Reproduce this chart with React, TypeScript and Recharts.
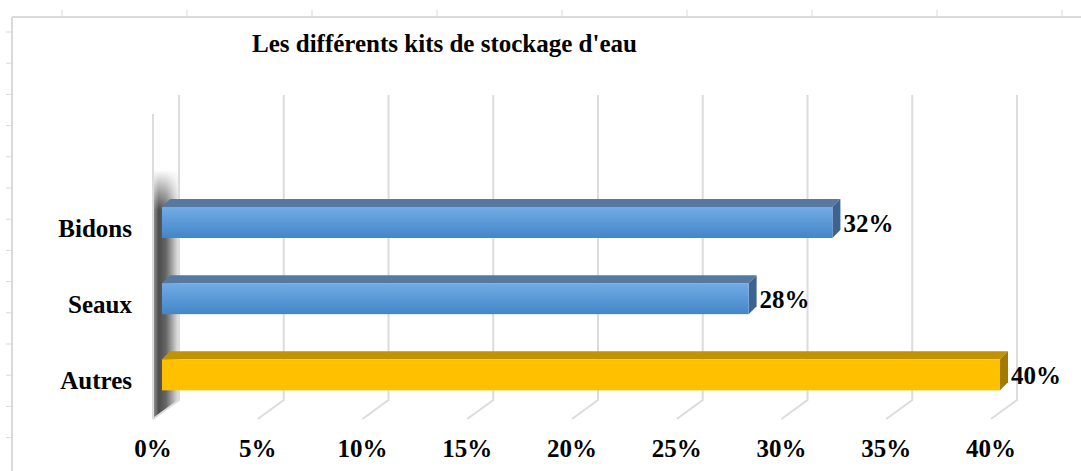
import React from "react";
import { BarChart, Bar, XAxis, YAxis, CartesianGrid, LabelList } from "recharts";

const categories = ["Bidons", "Seaux", "Autres"];
const shares = [32, 28, 40];
const xTicks = [0, 5, 10, 15, 20, 25, 30, 35, 40];
const title = "Les différents kits de stockage d'eau";

const data = categories.map((name, i) => ({ name, value: shares[i] }));

const FONT = '"Liberation Serif", "Times New Roman", serif';
const FS = 25;
const DEPTH = 8;
const GRID = "#dcdcdc";

// face colours per category
const faces: Record<string, { hi: string; lo: string; lid: string; side: string }> = {
  Bidons: { hi: "#73ace5", lo: "#4286c9", lid: "#57799f", side: "#3d6490" },
  Seaux: { hi: "#73ace5", lo: "#4286c9", lid: "#57799f", side: "#3d6490" },
  Autres: { hi: "#ffc000", lo: "#ffc000", lid: "#c29200", side: "#a27a00" },
};

function Box3D(props: any) {
  const { x, y, width, height, index, payload } = props;
  const c = faces[payload.name];
  const d = DEPTH;
  const id = `front-${index}`;
  return (
    <g>
      <defs>
        <linearGradient id={id} x1="0" y1="0" x2="0" y2="1">
          <stop offset="0%" stopColor={c.hi} />
          <stop offset="100%" stopColor={c.lo} />
        </linearGradient>
      </defs>
      <polygon
        points={`${x},${y} ${x + d},${y - d} ${x + width + d},${y - d} ${x + width},${y}`}
        fill={c.lid}
      />
      <polygon
        points={`${x + width},${y} ${x + width + d},${y - d} ${x + width + d},${y + height - d} ${x + width},${y + height}`}
        fill={c.side}
      />
      <rect x={x} y={y} width={width} height={height} fill={`url(#${id})`} />
    </g>
  );
}

// back wall line + floor diagonal for each tick, plus the side wall at 0
function GridLine(props: any) {
  const { x1, y1, y2, index } = props;
  const bx = x1 + 17;
  const fx = x1 - 9;
  const top = y1 - 89;
  const bottom = y2 - 12.5;
  const front = y2 + 6.5;
  return (
    <g>
      {index === 0 && (
        <g>
          <defs>
            <linearGradient id="wallShade" x1="0" y1="0" x2="1" y2="0">
              <stop offset="0%" stopColor="#9a9a9a" />
              <stop offset="22%" stopColor="#4c4c4c" />
              <stop offset="50%" stopColor="#666" />
              <stop offset="78%" stopColor="#b0b0b0" />
              <stop offset="100%" stopColor="#ebebeb" />
            </linearGradient>
            <linearGradient id="wallFade" gradientUnits="userSpaceOnUse" x1="0" y1={top + 75} x2="0" y2={top + 115}>
              <stop offset="0%" stopColor="#fff" stopOpacity={0} />
              <stop offset="100%" stopColor="#fff" stopOpacity={1} />
            </linearGradient>
            <mask id="wallMask">
              <rect x={fx - 5} y={top} width={40} height={front - top + 5} fill="url(#wallFade)" />
            </mask>
          </defs>
          <polygon
            points={`${fx},${top + 19} ${bx},${top} ${bx},${bottom} ${fx},${front}`}
            fill="url(#wallShade)"
            mask="url(#wallMask)"
          />
          <line x1={fx} y1={top + 19} x2={fx} y2={front} stroke={GRID} strokeWidth={2} />
        </g>
      )}
      <polyline
        points={`${bx},${top} ${bx},${bottom} ${fx},${front}`}
        fill="none"
        stroke={GRID}
        strokeWidth={2}
      />
    </g>
  );
}

function XTick(props: any) {
  const { x, y, payload } = props;
  return (
    <text x={x - 9} y={y + 36} textAnchor="middle" dominantBaseline="central"
      fontFamily={FONT} fontWeight="bold" fontSize={FS} fill="#000">
      {`${payload.value}%`}
    </text>
  );
}

function YTick(props: any) {
  const { x, y, payload } = props;
  return (
    <text x={x - 30} y={y + 6} textAnchor="end" dominantBaseline="central"
      fontFamily={FONT} fontWeight="bold" fontSize={FS} fill="#000">
      {payload.value}
    </text>
  );
}

function ValueLabel(props: any) {
  const { x, y, width, height, value } = props;
  return (
    <text x={x + width + DEPTH + 3} y={y + height / 2 + 1} dominantBaseline="central"
      fontFamily={FONT} fontWeight="bold" fontSize={FS} fill="#000">
      {`${value}%`}
    </text>
  );
}

export default function App() {
  const rulerTop = Array.from({ length: 9 }, (_, i) => 62 + i * 125);
  const rulerLeft = Array.from({ length: 14 }, (_, i) => 32 + i * 31.2);
  return (
    <div style={{ position: "absolute", left: 0, top: 0, width: 1081, height: 471, background: "#fff" }}>
      <svg width={1081} height={471} style={{ position: "absolute", left: 0, top: 0 }}>
        <line x1={12} y1={17} x2={1081} y2={17} stroke="#d9d9d9" strokeWidth={2} />
        <line x1={12} y1={17} x2={12} y2={471} stroke="#d9d9d9" strokeWidth={2} />
        {rulerTop.map((t) => (
          <line key={`t${t}`} x1={t} y1={10} x2={t} y2={17} stroke="#d9d9d9" strokeWidth={1} />
        ))}
        {rulerLeft.map((t) => (
          <line key={`l${t}`} x1={6} y1={t} x2={12} y2={t} stroke="#d9d9d9" strokeWidth={1} />
        ))}
        <text x={444.5} y={52} textAnchor="middle" fontFamily={FONT} fontWeight="bold" fontSize={FS} fill="#000">
          {title}
        </text>
      </svg>
      <div style={{ position: "absolute", left: 0, top: 0 }}>
        <BarChart
          width={1081}
          height={471}
          data={data}
          layout="vertical"
          margin={{ top: 184, right: 81, bottom: 18.5, left: 12 }}
        >
          <CartesianGrid horizontal={false} vertical={GridLine} />
          <XAxis
            type="number"
            domain={[0, 40]}
            ticks={xTicks}
            interval={0}
            axisLine={false}
            tickLine={false}
            tickSize={0}
            tickMargin={0}
            height={40}
            tick={XTick}
          />
          <YAxis
            type="category"
            dataKey="name"
            width={150}
            axisLine={false}
            tickLine={false}
            tickSize={0}
            tickMargin={0}
            tick={YTick}
          />
          <Bar dataKey="value" barSize={31} shape={Box3D} isAnimationActive={false}>
            <LabelList dataKey="value" content={ValueLabel} />
          </Bar>
        </BarChart>
      </div>
    </div>
  );
}
